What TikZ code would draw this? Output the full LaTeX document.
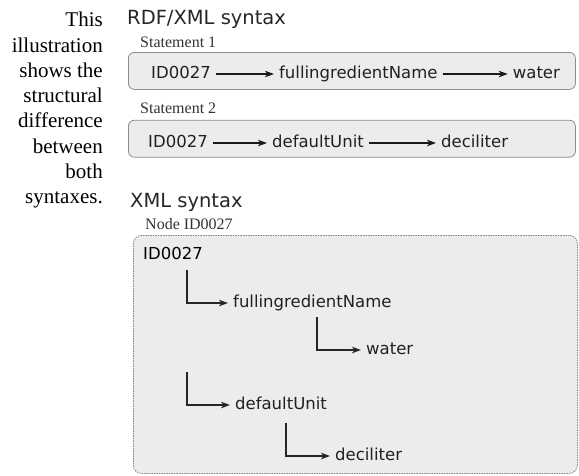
\documentclass[tikz,border=0pt]{standalone}
\usepackage{fontspec}
\setmainfont{Liberation Serif}
\newfontfamily\dvsans{DejaVu Sans}
\usepackage{tikz}
\usetikzlibrary{arrows.meta,positioning,calc}

\begin{document}
\begin{tikzpicture}[x=1pt, y=-1pt,
        stmtbox/.style={rectangle, draw=black!45, fill=gray!15, rounded corners=6pt, line width=0.8pt, inner sep=0pt},
        xmlbox/.style={rectangle, draw=black!50, fill=gray!15, rounded corners=8pt, line width=0.8pt, dash pattern=on 1.5pt off 1pt, inner sep=0pt},
        term/.style={inner xsep=5pt, inner ysep=0pt, text height=12pt, text depth=4pt, text=black!87, font=\dvsans\fontsize{16.5pt}{20pt}\selectfont},
        heading/.style={inner sep=0pt, text=black!85, font=\dvsans\fontsize{19.5pt}{23pt}\selectfont},
        boxlabel/.style={inner sep=0pt, text=black!80, font=\fontsize{16pt}{19pt}\selectfont},
        arrow/.style={-{Stealth[length=9pt, width=6.5pt, inset=2.5pt]}, line width=1.3pt, black!90},
        treearrow/.style={-{Stealth[length=9pt, width=6.5pt, inset=2.5pt]}, line width=1.4pt, black!85}]
        \useasboundingbox (0,0) rectangle (579,475);

        % Caption
        \node[anchor=north east, inner sep=0pt, align=right, font=\fontsize{21pt}{25.3pt}\selectfont] (caption) at (103,12)
            {This\\illustration\\shows the\\structural\\difference\\between\\both\\syntaxes.};

        % RDF/XML part
        \node[heading, anchor=base west] (rdfhead) at (127,24) {RDF/XML syntax};
        \node[stmtbox, anchor=north west, minimum width=447pt, minimum height=37pt] (box1) at (128,52) {};
        \node[stmtbox, below=30pt of box1, minimum width=447pt, minimum height=37pt] (box2) {};
        \node[boxlabel, anchor=base west] (lab1) at ([shift={(12,-5)}]box1.north west) {Statement 1};
        \node[boxlabel, anchor=base west] (lab2) at ([shift={(12,-6)}]box2.north west) {Statement 2};

        \node[term, anchor=base west] (r1a) at (146,78) {ID0027};
        \node[term, right=58pt of r1a] (r1b) {fullingredientName};
        \node[term, right=65pt of r1b] (r1c) {water};

        \node[term, anchor=base west] (r2a) at (143,147) {ID0027};
        \node[term, right=54pt of r2a] (r2b) {defaultUnit};
        \node[term, right=67pt of r2b] (r2c) {deciliter};

        % XML part
        \node[heading, anchor=base west] (xmlhead) at (130,207) {XML syntax};
        \node[xmlbox, anchor=north west, minimum width=444pt, minimum height=238pt] (xmlbox) at (133,235) {};
        \node[boxlabel, anchor=base west] (lab3) at ([shift={(12,-6)}]xmlbox.north west) {Node ID0027};

        \node[term, anchor=base west, text=black] (x0) at (138,259) {ID0027};
        \node[term, anchor=base west] (x1) at (228,307) {fullingredientName};
        \node[term, anchor=base west] (x2) at (361,354) {water};
        \node[term, anchor=base west] (x3) at (230,409) {defaultUnit};
        \node[term, anchor=base west] (x4) at (330,460) {deciliter};
        \coordinate (b2) at (187,372);

        % Connections
        \draw[arrow] (r1a) -- (r1b);
        \draw[arrow] (r1b) -- (r1c);
        \draw[arrow] (r2a) -- (r2b);
        \draw[arrow] (r2b) -- (r2c);
        \draw[treearrow] ([shift={(49,11)}]x0.base west) |- (x1.west);
        \draw[treearrow] ([shift={(89,10)}]x1.base west) |- (x2.west);
        \draw[treearrow] (b2) |- (x3.west);
        \draw[treearrow] ([shift={(56,14)}]x3.base west) |- (x4.west);
    \end{tikzpicture}
\end{document}
